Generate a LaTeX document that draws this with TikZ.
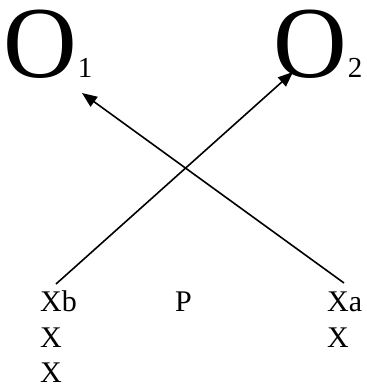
\documentclass[tikz,border=0pt]{standalone}
\usepackage{fontspec}
\setmainfont{Liberation Serif}
\usetikzlibrary{arrows.meta}
\tikzset{
  lbl/.style={anchor=base west, inner sep=0pt, font=\fontsize{30}{30}\selectfont, text depth=0pt},
  bigo/.style={anchor=base west, inner sep=0pt, font=\fontsize{102}{102}\selectfont, text height=70pt, text depth=0pt},
  sub/.style={anchor=base west, inner sep=0pt, font=\fontsize{29}{29}\selectfont, text height=20pt, text depth=0pt},
  conn/.style={line width=1.6pt, -{Triangle[length=15pt,width=12pt]}}
}
\begin{document}
\begin{tikzpicture}[x=1pt,y=-1pt]
\useasboundingbox (0,0) rectangle (366,387);
\node[bigo] (o1) at (3.5,78) {O};
\node[sub] (s1) at (o1.base east) {1};
\node[bigo] (o2) at (273.5,78) {O};
\node[sub] (s2) at (o2.base east) {2};
\node[lbl] (xb) at (40,311) {Xb};
\node[lbl] (p) at (175,311) {P};
\node[lbl] (xa) at (327,311) {Xa};
\node[lbl] (x1) at (40,347) {X};
\node[lbl] (x2) at (327,347) {X};
\node[lbl] (x3) at (40,382) {X};
\coordinate (a1s) at (344,283);
\coordinate (a1e) at (82,93);
\coordinate (a2s) at (56,284);
\coordinate (a2e) at (293,72);
\draw[conn] (a1s) -- (a1e);
\draw[conn] (a2s) -- (a2e);
\end{tikzpicture}
\end{document}
